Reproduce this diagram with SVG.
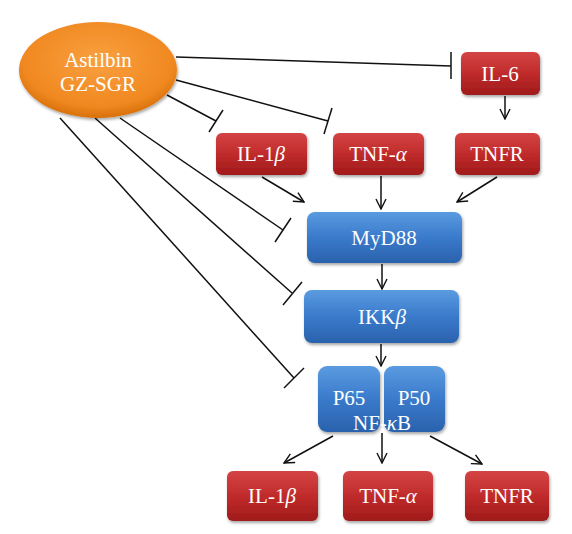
<svg xmlns="http://www.w3.org/2000/svg" width="572" height="534" viewBox="0 0 572 534">
<defs>
<linearGradient id="red" x1="0" y1="0" x2="0" y2="1">
<stop offset="0" stop-color="#d44444"/><stop offset="0.5" stop-color="#c02b2b"/><stop offset="1" stop-color="#a01a1a"/>
</linearGradient>
<linearGradient id="blue" x1="0" y1="0" x2="0" y2="1">
<stop offset="0" stop-color="#5a9be0"/><stop offset="0.5" stop-color="#3a7acb"/><stop offset="1" stop-color="#2a62ad"/>
</linearGradient>
<radialGradient id="orange" cx="0.5" cy="0.4" r="0.6">
<stop offset="0" stop-color="#f9a040"/><stop offset="0.8" stop-color="#f08820"/><stop offset="1" stop-color="#d8700a"/>
</radialGradient>
<filter id="sh" x="-10%" y="-10%" width="125%" height="135%">
<feDropShadow dx="1" dy="2" stdDeviation="1.5" flood-color="#000" flood-opacity="0.35"/>
</filter>
<marker id="arr" viewBox="0 0 12 12" refX="11" refY="6" markerWidth="12" markerHeight="12" markerUnits="userSpaceOnUse" orient="auto">
<path d="M1,1 L11,6 L1,11" fill="none" stroke="#111" stroke-width="1.4"/>
</marker>
</defs>
<style>
.r{fill:url(#red);filter:url(#sh)}
.b{fill:url(#blue);filter:url(#sh)}
.t{font-size:21px;fill:#fff;text-anchor:middle}
.ln{stroke:#111;stroke-width:1.5;fill:none}
.a{marker-end:url(#arr)}
</style>
<g id="connectors">
<line class="ln" x1="176" y1="57" x2="451" y2="66"/>
<line class="ln" x1="451" y1="52" x2="451" y2="79"/>
<line class="ln" x1="176" y1="80" x2="328" y2="121"/>
<line class="ln" x1="324" y1="134" x2="332" y2="108"/>
<line class="ln" x1="167" y1="95" x2="216" y2="121"/>
<line class="ln" x1="209" y1="132" x2="223" y2="110"/>
<line class="ln" x1="120" y1="118" x2="283" y2="230"/>
<line class="ln" x1="275" y1="242" x2="291" y2="218"/>
<line class="ln" x1="95" y1="118" x2="292" y2="293"/>
<line class="ln" x1="283" y1="305" x2="302" y2="282"/>
<line class="ln" x1="60" y1="118" x2="294" y2="378"/>
<line class="ln" x1="284" y1="388" x2="304" y2="368"/>
<line class="ln a" x1="505" y1="96" x2="505" y2="119"/>
<line class="ln a" x1="262" y1="177" x2="304" y2="202"/>
<line class="ln a" x1="381" y1="176" x2="381" y2="209"/>
<line class="ln a" x1="497" y1="177" x2="457" y2="202"/>
<line class="ln a" x1="382" y1="264" x2="382" y2="289"/>
<line class="ln a" x1="381" y1="344" x2="381" y2="366"/>
<line class="ln a" x1="333" y1="436" x2="284" y2="463"/>
<line class="ln a" x1="382" y1="433" x2="382" y2="463"/>
<line class="ln a" x1="430" y1="436" x2="482" y2="464"/>
</g>
<g font-family="'Liberation Serif', 'Times New Roman', serif">
<g id="astilbin">
<ellipse cx="98" cy="70" rx="79" ry="48" fill="url(#orange)" filter="url(#sh)"/>
<text class="t" x="98" y="67">Astilbin</text>
<text class="t" x="98" y="91">GZ-SGR</text>
</g>
<g id="il6">
<rect class="r" x="461" y="52" width="79" height="43" rx="6"/>
<text class="t" x="500" y="81">IL-6</text>
</g>
<g id="il1b-top">
<rect class="r" x="216" y="133" width="91" height="42" rx="6"/>
<text class="t" x="261" y="161">IL-1<tspan font-style="italic">β</tspan></text>
</g>
<g id="tnfa-top">
<rect class="r" x="333" y="133" width="91" height="42" rx="6"/>
<text class="t" x="378" y="161">TNF-<tspan font-style="italic">α</tspan></text>
</g>
<g id="tnfr-top">
<rect class="r" x="455" y="133" width="85" height="42" rx="6"/>
<text class="t" x="497" y="161">TNFR</text>
</g>
<g id="myd88">
<rect class="b" x="307" y="212" width="155" height="51" rx="8"/>
<text class="t" x="384" y="245">MyD88</text>
</g>
<g id="ikkb">
<rect class="b" x="304" y="290" width="155" height="53" rx="8"/>
<text class="t" x="382" y="324">IKK<tspan font-style="italic">β</tspan></text>
</g>
<g id="nfkb">
<rect class="b" x="318" y="366" width="62" height="66" rx="9"/>
<rect class="b" x="384" y="366" width="61" height="66" rx="9"/>
<text class="t" x="349" y="405">P65</text>
<text class="t" x="414" y="405">P50</text>
<text class="t" x="382" y="430">NF-<tspan font-style="italic">κ</tspan>B</text>
</g>
<g id="il1b-bottom">
<rect class="r" x="227" y="471" width="91" height="50" rx="6"/>
<text class="t" x="272" y="503">IL-1<tspan font-style="italic">β</tspan></text>
</g>
<g id="tnfa-bottom">
<rect class="r" x="343" y="471" width="90" height="50" rx="6"/>
<text class="t" x="388" y="503">TNF-<tspan font-style="italic">α</tspan></text>
</g>
<g id="tnfr-bottom">
<rect class="r" x="465" y="471" width="84" height="50" rx="6"/>
<text class="t" x="507" y="503">TNFR</text>
</g>
</g>
</svg>
